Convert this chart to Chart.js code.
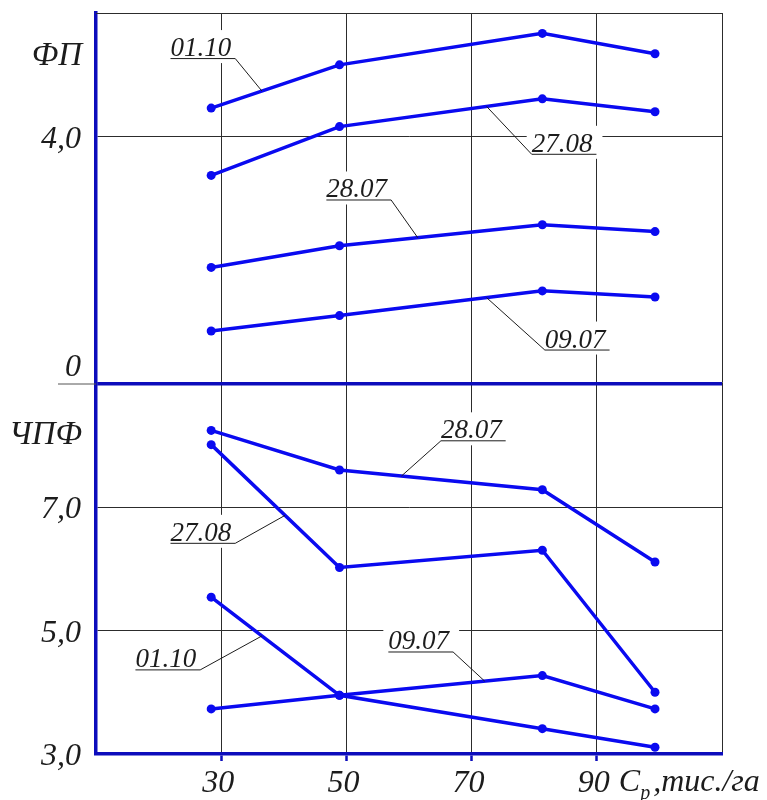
<!DOCTYPE html>
<html>
<head>
<meta charset="utf-8">
<script src="https://cdn.jsdelivr.net/npm/chart.js@4.4.1/dist/chart.umd.min.js"></script>
<style>
  html, body { margin: 0; padding: 0; background: #fff; }
  #wrap { width: 767px; height: 800px; position: relative; }
</style>
</head>
<body>
<div id="wrap"><canvas id="chart" width="767" height="800"></canvas></div>
<script>
// Plant density, thousand plants per hectare
const density = [28.4, 48.9, 81.3, 99.3];

// Leaf area (ФП) by sampling date
const fp_0907 = [0.85, 1.10, 1.50, 1.40];
const fp_2807 = [1.88, 2.23, 2.57, 2.46];
const fp_2708 = [3.37, 4.16, 4.61, 4.40];
const fp_0110 = [4.46, 5.16, 5.67, 5.34];

// Net photosynthetic productivity (ЧПФ) by sampling date
const chpf_0907 = [3.73, 3.95, 4.27, 3.73];
const chpf_2807 = [8.24, 7.60, 7.28, 6.11];
const chpf_2708 = [8.01, 6.02, 6.30, 4.00];
const chpf_0110 = [5.54, 3.95, 3.41, 3.11];

// Labelled ticks
const xTicks = [30, 50, 70, 90];
const fpTicks = [0, 2, 4];
const chpfTicks = [3, 5, 7];

const SERIF = '"Liberation Serif", "Times New Roman", serif';
const LINE_BLUE = '#0a0af0';
const AXIS_BLUE = '#0c0cbc';
const GRID = '#2c2c2c';
const INK = '#1c1c1c';

const fmt = v => v.toFixed(1).replace('.', ',');

function series(values, axis) {
  return {
    data: values.map((v, i) => ({ x: density[i], y: v })),
    yAxisID: axis,
    borderColor: LINE_BLUE,
    backgroundColor: LINE_BLUE,
    borderWidth: 3.5,
    pointRadius: 4.5,
    pointHoverRadius: 4.5,
    pointBorderWidth: 0,
    pointBackgroundColor: LINE_BLUE,
    tension: 0,
    fill: false
  };
}

// Callouts: label text anchored by its left edge and underline level (data units),
// with a leader from one end of the underline to the curve at x = at.
const callouts = [
  { axis: 'y',  values: fp_0110,   text: '01.10', left: 21.9, line: 5.27, from: 'right', at: 36.5 },
  { axis: 'y',  values: fp_2807,   text: '28.07', left: 46.8, line: 2.98, from: 'right', at: 61.4 },
  { axis: 'y',  values: fp_2708,   text: '27.08', left: 79.6, line: 3.72, from: 'left',  at: 72.4 },
  { axis: 'y',  values: fp_0907,   text: '09.07', left: 81.7, line: 0.55, from: 'left',  at: 72.4 },
  { axis: 'y2', values: chpf_2807, text: '28.07', left: 65.1, line: 8.08, from: 'left',  at: 58.8 },
  { axis: 'y2', values: chpf_2708, text: '27.08', left: 21.9, line: 6.42, from: 'right', at: 40.2 },
  { axis: 'y2', values: chpf_0110, text: '01.10', left: 16.3, line: 4.37, from: 'right', at: 36.5 },
  { axis: 'y2', values: chpf_0907, text: '09.07', left: 56.7, line: 4.66, from: 'right', at: 72.1 }
];

function valueAt(values, x) {
  for (let i = 0; i < density.length - 1; i++) {
    if (x >= density[i] && x <= density[i + 1]) {
      const t = (x - density[i]) / (density[i + 1] - density[i]);
      return values[i] + t * (values[i + 1] - values[i]);
    }
  }
  return values[0];
}

const CALLOUT_FONT = 'italic 27px ' + SERIF;

function calloutGeometry(chart, c) {
  const xs = chart.scales.x, ys = chart.scales[c.axis];
  const ctx = chart.ctx;
  ctx.save();
  ctx.font = CALLOUT_FONT;
  const w = ctx.measureText(c.text).width;
  ctx.restore();
  const x0 = xs.getPixelForValue(c.left);
  const y0 = ys.getPixelForValue(c.line);
  return { x0, y0, w, x1: x0 + w + 4 };
}

// Drop the label-overflow padding so the plot area is set by layout.padding alone
const noOverflow = s => { s.paddingTop = 0; s.paddingBottom = 0; s.paddingLeft = 0; s.paddingRight = 0; };

const annotate = {
  id: 'annotate',
  beforeDatasetsDraw(chart) {
    const ctx = chart.ctx;
    const area = chart.chartArea;
    ctx.save();
    // thin frame line along the top of the plot
    ctx.strokeStyle = GRID;
    ctx.lineWidth = 1;
    ctx.beginPath();
    ctx.moveTo(area.left, Math.round(area.top) + 0.5);
    ctx.lineTo(area.right, Math.round(area.top) + 0.5);
    ctx.stroke();
    // white backing behind callout labels
    ctx.fillStyle = '#ffffff';
    callouts.forEach(c => {
      const g = calloutGeometry(chart, c);
      ctx.fillRect(g.x0 - 5, g.y0 - 28, g.x1 - g.x0 + 11, 33);
    });
    ctx.restore();
  },
  afterDatasetsDraw(chart) {
    const ctx = chart.ctx;
    const xs = chart.scales.x, yTop = chart.scales.y, yBot = chart.scales.y2;
    ctx.save();

    // short thin extension of the panel divider into the label area
    const yMid = yTop.getPixelForValue(0);
    ctx.strokeStyle = '#555';
    ctx.lineWidth = 1;
    ctx.beginPath();
    ctx.moveTo(58, yMid + 0.5);
    ctx.lineTo(xs.left, yMid + 0.5);
    ctx.stroke();

    // callouts
    callouts.forEach(c => {
      const ys = chart.scales[c.axis];
      const g = calloutGeometry(chart, c);
      ctx.font = CALLOUT_FONT;
      ctx.fillStyle = INK;
      ctx.textAlign = 'left';
      ctx.textBaseline = 'alphabetic';
      ctx.fillText(c.text, g.x0, g.y0 - 2);
      ctx.strokeStyle = INK;
      ctx.lineWidth = 1;
      ctx.beginPath();
      ctx.moveTo(g.x0, g.y0 + 0.5);
      ctx.lineTo(g.x1, g.y0 + 0.5);
      const sx = c.from === 'left' ? g.x0 : g.x1;
      ctx.moveTo(sx, g.y0 + 0.5);
      ctx.lineTo(xs.getPixelForValue(c.at), ys.getPixelForValue(valueAt(c.values, c.at)));
      ctx.stroke();
    });

    // panel names
    ctx.font = 'italic 33px ' + SERIF;
    ctx.fillStyle = INK;
    ctx.textAlign = 'right';
    ctx.textBaseline = 'alphabetic';
    ctx.fillText('ФП', 82, yTop.getPixelForValue(5.15));
    ctx.fillText('ЧПФ', 82, yBot.getPixelForValue(8.02));

    // x-axis title after the last labelled tick
    const tx = xs.getPixelForValue(90) + 22;
    const base = xs.top + 37;
    ctx.textAlign = 'left';
    ctx.font = 'italic 32px ' + SERIF;
    ctx.fillText('C', tx, base);
    let cx = tx + ctx.measureText('C').width;
    ctx.font = 'italic 20px ' + SERIF;
    ctx.fillText('р', cx, base + 8);
    cx += ctx.measureText('р').width + 3;
    ctx.font = 'italic 32px ' + SERIF;
    ctx.fillText(',тис./га', cx, base);

    ctx.restore();
  }
};

const tickFont = { family: SERIF, size: 32, style: 'italic' };

new Chart(document.getElementById('chart'), {
  type: 'line',
  data: {
    datasets: [
      series(fp_0907, 'y'), series(fp_2807, 'y'), series(fp_2708, 'y'), series(fp_0110, 'y'),
      series(chpf_0907, 'y2'), series(chpf_2807, 'y2'), series(chpf_2708, 'y2'), series(chpf_0110, 'y2')
    ]
  },
  options: {
    responsive: false,
    animation: false,
    events: [],
    layout: { padding: { top: 13, right: 45, left: 0, bottom: 0 } },
    plugins: { legend: { display: false }, tooltip: { enabled: false }, title: { display: false } },
    scales: {
      x: {
        type: 'linear',
        min: 10, max: 110,
        afterFit: s => { s.height = 46; noOverflow(s); },
        afterBuildTicks: s => { s.ticks = [10, 30, 50, 70, 90, 110].map(v => ({ value: v })); },
        ticks: {
          callback: v => xTicks.includes(v) ? String(v) : '',
          font: tickFont, color: INK, padding: 3, maxRotation: 0, autoSkip: false, labelOffset: -3
        },
        grid: {
          color: c => (c.tick && c.tick.value === 10) ? 'rgba(0,0,0,0)' : GRID,
          lineWidth: 1,
          drawTicks: true,
          tickLength: 7,
          tickWidth: 2.5,
          tickColor: c => (c.tick && xTicks.includes(c.tick.value)) ? AXIS_BLUE : 'rgba(0,0,0,0)'
        },
        border: { display: true, color: AXIS_BLUE, width: 3.5 }
      },
      y: {
        type: 'linear',
        position: 'left',
        stack: 'panels',
        stackWeight: 1,
        weight: 2,
        min: 0, max: 6,
        afterFit: s => { s.width = 96; noOverflow(s); },
        afterBuildTicks: s => { s.ticks = [0, 2, 4, 6].map(v => ({ value: v })); },
        ticks: {
          callback: v => fpTicks.includes(v) ? (v === 0 ? ['0', ''] : fmt(v)) : '',
          font: tickFont, color: INK, padding: 15, labelOffset: 3
        },
        grid: {
          color: c => (c.tick && c.tick.value === 0) ? AXIS_BLUE : GRID,
          lineWidth: c => (c.tick && c.tick.value === 0) ? 3.5 : 1,
          drawTicks: false
        },
        border: { display: true, color: AXIS_BLUE, width: 3.5 }
      },
      y2: {
        type: 'linear',
        position: 'left',
        stack: 'panels',
        stackWeight: 1,
        weight: 1,
        min: 3, max: 9,
        afterFit: s => { s.width = 96; noOverflow(s); },
        afterBuildTicks: s => { s.ticks = [3, 5, 7, 9].map(v => ({ value: v })); },
        ticks: {
          callback: v => chpfTicks.includes(v) ? fmt(v) : '',
          font: tickFont, color: INK, padding: 15, labelOffset: 3
        },
        grid: {
          color: c => (c.tick && (c.tick.value === 3 || c.tick.value === 9)) ? 'rgba(0,0,0,0)' : GRID,
          lineWidth: 1,
          drawTicks: false
        },
        border: { display: true, color: AXIS_BLUE, width: 3.5 }
      }
    }
  },
  plugins: [annotate]
});
</script>
</body>
</html>
